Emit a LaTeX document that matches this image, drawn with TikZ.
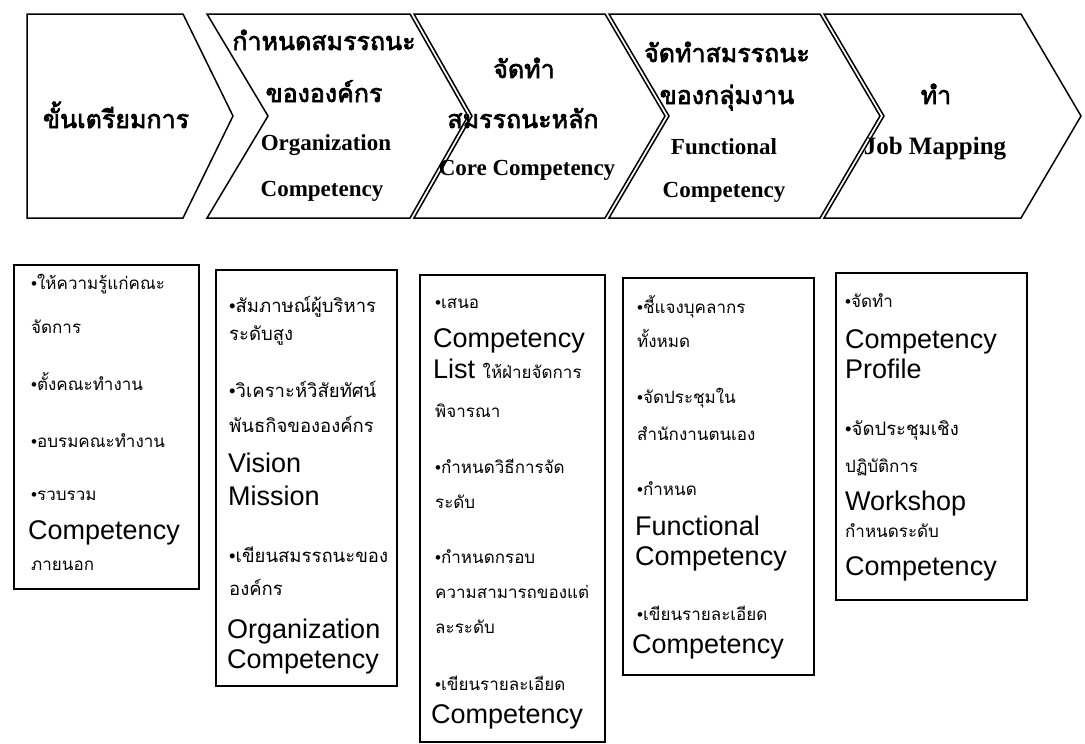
\documentclass[tikz,border=0pt]{standalone}
\usepackage{fontspec}
\setmainfont{Liberation Serif}
\newfontfamily\thaifont[Script=Thai]{Loma}
\newfontfamily\thaiheadfont[Script=Thai, FakeBold=2.6]{Loma}
\newfontfamily\sansfont{Liberation Sans}
\newcommand{\itemdot}{{\sansfont •}}
\tikzset{
  stageshape/.style={draw=black, line width=1.5pt, line join=miter},
  listbox/.style={draw=black, line width=1.1pt},
  th/.style={anchor=base west, inner sep=0pt, font=\thaifont\fontsize{17}{20}\selectfont},
  thwide/.style={th, font=\thaifont\fontsize{18.5}{21}\selectfont},
  en/.style={anchor=base west, inner sep=0pt, font=\sansfont\fontsize{27}{30}\selectfont},
  headth/.style={anchor=base, inner sep=0pt, font=\thaiheadfont\fontsize{25}{28}\selectfont},
  headen/.style={anchor=base, inner sep=0pt, font=\bfseries\fontsize{23}{26}\selectfont},
}
\begin{document}
\begin{tikzpicture}[x=1pt,y=-1pt]
\useasboundingbox (0,0) rectangle (1085,744);

% ---- stage arrows ----
\draw[stageshape] (27,14) -- (183,14) -- (233,116) -- (183,218) -- (27,218) -- cycle;
\draw[stageshape] (207,14) -- (410,14) -- (468,116) -- (410,218) -- (207,218) -- (268,116) -- cycle;
\draw[stageshape] (414,14) -- (605,14) -- (665,116) -- (605,218) -- (414,218) -- (472,116) -- cycle;
\draw[stageshape] (609,14) -- (820,14) -- (880,116) -- (820,218) -- (609,218) -- (669,116) -- cycle;
\draw[stageshape] (824,14) -- (1021,14) -- (1081,116) -- (1021,218) -- (824,218) -- (884,116) -- cycle;

\node[headth] (s1a) at (116,128) {ขั้นเตรียมการ};

\node[headth] (s2a) at (324,50) {กำหนดสมรรถนะ};
\node[headth] (s2b) at (324,102) {ขององค์กร};
\node[headen] (s2c) at (326,150) {Organization};
\node[headen] (s2d) at (322,196) {Competency};

\node[headth] (s3a) at (524,78) {จัดทำ};
\node[headth] (s3b) at (523,128) {สมรรถนะหลัก};
\node[headen] (s3c) at (527,175) {Core Competency};

\node[headth] (s4a) at (727,62) {จัดทำสมรรถนะ};
\node[headth] (s4b) at (727,104) {ของกลุ่มงาน};
\node[headen] (s4c) at (724,154) {Functional};
\node[headen] (s4d) at (724,197) {Competency};

\node[headth] (s5a) at (936,104) {ทำ};
\node[headen, font=\bfseries\fontsize{25}{28}\selectfont] (s5b) at (935,154) {Job Mapping};

% ---- activity lists ----
\draw[listbox] (14,265) rectangle (199,589);
\node[th] (a1) at (31,289) {\itemdot ให้ความรู้แก่คณะ};
\node[th] (a2) at (31,333) {จัดการ};
\node[th] (a3) at (31,390) {\itemdot ตั้งคณะทำงาน};
\node[th] (a4) at (31,447) {\itemdot อบรมคณะทำงาน};
\node[th] (a5) at (31,500) {\itemdot รวบรวม};
\node[en] (a6) at (28,539) {Competency};
\node[th] (a7) at (31,570) {ภายนอก};

\draw[listbox] (216,270) rectangle (397,686);
\node[thwide] (b1) at (229,312) {\itemdot สัมภาษณ์ผู้บริหาร};
\node[thwide] (b2) at (229,340) {ระดับสูง};
\node[thwide] (b3) at (229,397) {\itemdot วิเคราะห์วิสัยทัศน์};
\node[thwide] (b4) at (229,432) {พันธกิจขององค์กร};
\node[en] (b5) at (228,472) {Vision};
\node[en] (b6) at (228,505) {Mission};
\node[thwide] (b7) at (229,562) {\itemdot เขียนสมรรถนะของ};
\node[thwide] (b8) at (229,595) {องค์กร};
\node[en] (b9) at (227,638) {Organization};
\node[en] (b10) at (227,668) {Competency};

\draw[listbox] (420,275) rectangle (605,742);
\node[th] (c1) at (435,308) {\itemdot เสนอ};
\node[en] (c2) at (433,347) {Competency};
\node[en] (c3) at (433,378) {List {\thaifont\fontsize{17}{20}\selectfont ให้ฝ่ายจัดการ}};
\node[th] (c4) at (435,417) {พิจารณา};
\node[th] (c5) at (435,473) {\itemdot กำหนดวิธีการจัด};
\node[th] (c6) at (435,508) {ระดับ};
\node[th] (c7) at (435,563) {\itemdot กำหนดกรอบ};
\node[th] (c8) at (435,598) {ความสามารถของแต่};
\node[th] (c9) at (435,633) {ละระดับ};
\node[th] (c10) at (435,690) {\itemdot เขียนรายละเอียด};
\node[en] (c11) at (431,723) {Competency};

\draw[listbox] (623,278) rectangle (814,675);
\node[th] (d1) at (637,313) {\itemdot ชี้แจงบุคลากร};
\node[th] (d2) at (637,347) {ทั้งหมด};
\node[th] (d3) at (637,403) {\itemdot จัดประชุมใน};
\node[th] (d4) at (637,440) {สำนักงานตนเอง};
\node[th] (d5) at (637,495) {\itemdot กำหนด};
\node[en] (d6) at (635,535) {Functional};
\node[en] (d7) at (635,565) {Competency};
\node[th] (d8) at (637,620) {\itemdot เขียนรายละเอียด};
\node[en] (d9) at (632,653) {Competency};

\draw[listbox] (836,273) rectangle (1027,600);
\node[th] (e1) at (845,307) {\itemdot จัดทำ};
\node[en] (e2) at (845,348) {Competency};
\node[en] (e3) at (845,378) {Profile};
\node[thwide] (e4) at (845,435) {\itemdot จัดประชุมเชิง};
\node[th] (e5) at (845,472) {ปฏิบัติการ};
\node[en] (e6) at (845,510) {Workshop};
\node[th] (e7) at (845,537) {กำหนดระดับ};
\node[en] (e8) at (845,575) {Competency};
\end{tikzpicture}
\end{document}
